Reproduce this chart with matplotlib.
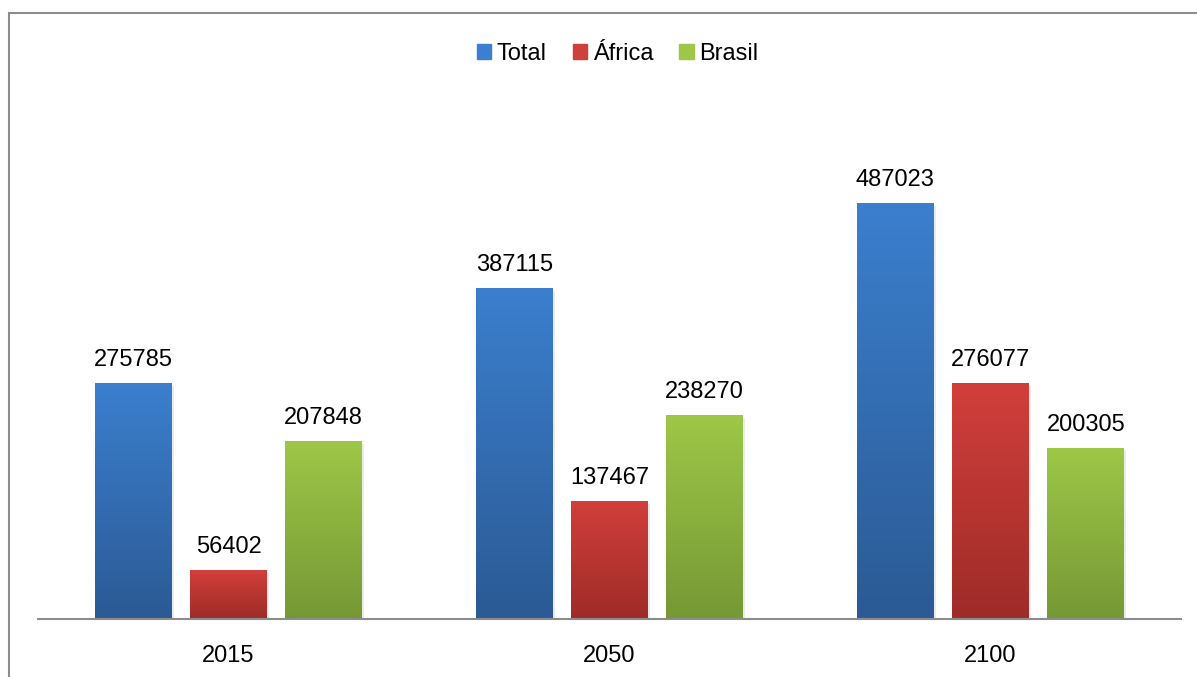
import numpy as np
import matplotlib.pyplot as plt
from matplotlib.patches import Rectangle
from matplotlib.colors import LinearSegmentedColormap

# data
years = ['2015', '2050', '2100']
series = ['Total', 'África', 'Brasil']
total = [275785, 387115, 487023]
africa = [56402, 137467, 276077]
brasil = [207848, 238270, 200305]

# top / bottom gradient colours per series
top_colors = ['#3b7fce', '#d13f3b', '#9ec747']
bot_colors = ['#2b5a94', '#9e2b28', '#769835']

plt.rcParams['font.family'] = ['Liberation Sans', 'DejaVu Sans']

fig = plt.figure(figsize=(11.97, 6.77), dpi=100)
ax = fig.add_axes([38 / 1197, 58 / 677, 1143 / 1197, 512 / 677])

# chart border
fig.patches.append(Rectangle((9 / 1197, -0.1), 1.2, (677 - 13) / 677 + 0.1,
                             transform=fig.transFigure, fill=False,
                             edgecolor='#8c8c8c', linewidth=1.5))

x = np.arange(len(years))
width = 0.202
offsets = [-0.25, 0, 0.25]
values = [total, africa, brasil]

for vals, off, name, c1, c2 in zip(values, offsets, series, top_colors, bot_colors):
    bars = ax.bar(x + off, vals, width, color=c1, label=name, zorder=2)
    cmap = LinearSegmentedColormap.from_list(name, [c2, c1])
    grad = np.linspace(0, 1, 256).reshape(-1, 1)
    for b in bars:
        bx, bw, bh = b.get_x(), b.get_width(), b.get_height()
        # soft shadow
        ax.add_patch(Rectangle((bx + 0.005, -2500), bw, bh, color='#000000',
                               alpha=0.08, zorder=1, linewidth=0))
        ax.imshow(grad, cmap=cmap, origin='lower', aspect='auto',
                  extent=(bx, bx + bw, 0, bh), zorder=3)
        ax.annotate(f'{int(bh)}', (bx + bw / 2, bh), xytext=(0, 9),
                    textcoords='offset points', ha='center', va='bottom',
                    fontsize=17, color='#000000', zorder=4)

ax.set_xlim(-0.5, 2.5)
ax.set_ylim(0, 600000)
ax.set_xticks(x)
ax.set_xticklabels(years, fontsize=17)
ax.tick_params(axis='x', length=0, pad=19)
ax.set_yticks([])
for s in ['top', 'right', 'left']:
    ax.spines[s].set_visible(False)
ax.spines['bottom'].set_color('#8c8c8c')
ax.spines['bottom'].set_linewidth(1.5)
ax.spines['bottom'].set_zorder(5)

leg = fig.legend(loc='center', bbox_to_anchor=(0.516, 1 - 54 / 677), ncol=3,
                 frameon=False, fontsize=17, handlelength=0.6, handleheight=0.6,
                 handletextpad=0.25, columnspacing=1.1)
for h, c1 in zip(leg.legend_handles, top_colors):
    h.set_color(c1)

fig.savefig('out.png', dpi=100)
